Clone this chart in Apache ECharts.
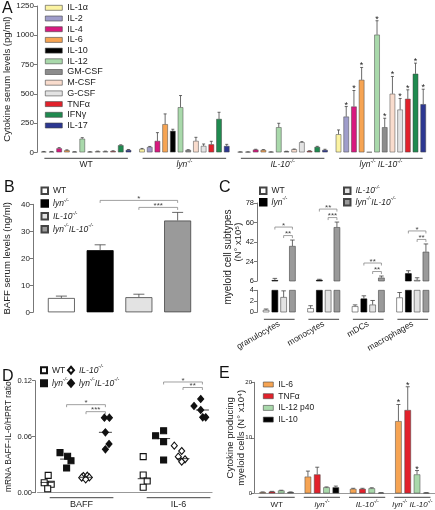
<!DOCTYPE html>
<html><head><meta charset="utf-8">
<script src="https://cdn.jsdelivr.net/npm/echarts@6/dist/echarts.min.js"></script>
<style>html,body{margin:0;padding:0;background:#fff}#c{width:435px;height:510px}</style>
</head><body><div id="c"></div>
<script>
// ---------------- DATA ----------------
const genotypes = ['WT', 'lyn', 'IL10', 'lynIL10'];

// Panel A: cytokine serum levels (pg/ml)
const cytokinesA = ['IL-1α','IL-2','IL-4','IL-6','IL-10','IL-12','GM-CSF','M-CSF','G-CSF','TNFα','IFNγ','IL-17'];
const A_WT          = [5, 5, 34, 17, 4, 116, 4, 8, 8, 10, 60, 20];
const A_WT_err      = [7, 7, 40, 21, 5, 125, 5, 10, 10, 13, 64, 24];
const A_lyn         = [28, 45, 97, 240, 183, 385, 20, 97, 54, 68, 285, 54];
const A_lyn_err     = [33, 50, 168, 328, 197, 485, 22, 128, 71, 94, 342, 68];
const A_IL10        = [3, 3, 23, 20, 3, 214, 8, 26, 86, 11, 46, 20];
const A_IL10_err    = [4, 4, 26, 23, 4, 248, 9, 28, 91, 13, 51, 26];
const A_lynIL10     = [154, 305, 391, 619, 2, 1005, 214, 500, 365, 457, 671, 411];
const A_lynIL10_err = [191, 391, 528, 725, 2, 1124, 291, 648, 460, 534, 762, 539];
const A_lynIL10_sig = ['', '*', '*', '*', '', '*', '*', '*', '*', '*', '*', '*'];

// Panel B: BAFF serum levels (ng/ml)
const B_vals = [5.3, 23, 5.6, 34];
const B_err  = [6.0, 25, 6.7, 37];
const B_sig  = ['*', '***'];           // lyn vs lynIL10, IL10 vs lynIL10

// Panel C: myeloid cell subtypes (N x10^5)
const cellTypes   = ['granulocytes', 'monocytes', 'mDCs', 'macrophages'];
const C_WT        = [0.43, 0.74, 1.1, 2.7];
const C_WT_err    = [0.6, 1.2, 1.35, 3.6];
const C_lyn       = [6.8, 7.0, 2.5, 13.1];
const C_lyn_err   = [8.4, 7.6, 3.0, 15.5];
const C_IL10      = [2.77, 6.2, 1.4, 6.9];
const C_IL10_err  = [3.9, 6.2, 2.15, 9.0];
const C_lynIL10     = [38.3, 55.7, 9.1, 33];
const C_lynIL10_err = [43.8, 60.4, 10.6, 40.2];
const C_sigOuter = ['*', '**', '**', '*'];    // lyn vs lynIL10
const C_sigInner = ['**', '***', '**', '**']; // IL10 vs lynIL10

// Panel D: mRNA BAFF-IL-6/HPRT ratio (individual mice)
const D_markers = ['BAFF', 'IL-6'];
const D_WT_BAFF      = [0.0186, 0.0107, 0.009, 0.0043];
const D_lyn_BAFF     = [0.0429, 0.039, 0.0343, 0.0265];
const D_IL10_BAFF    = [0.0179, 0.0182, 0.0161, 0.0164, 0.0143];
const D_lynIL10_BAFF = [0.0804, 0.0804, 0.0647, 0.0522, 0.0465];
const D_WT_IL6       = [0.0386, 0.019, 0.0125, 0.0058];
const D_lyn_IL6      = [0.0664, 0.061, 0.0547, 0.035];
const D_IL10_IL6     = [0.0504, 0.0447, 0.0386, 0.0358, 0.0332];
const D_lynIL10_IL6  = [0.1004, 0.0929, 0.0886, 0.0808, 0.0808];
const D_median_BAFF  = [0.011, 0.036, 0.0165, 0.0647];
const D_median_IL6   = [0.015, 0.058, 0.0365, 0.0886];
const D_sig_BAFF = ['*', '***'];
const D_sig_IL6  = ['*', '**'];

// Panel E: cytokine producing myeloid cells (N x10^4)
const cytokinesE = ['IL-6', 'TNFα', 'IL-12 p40', 'IL-10'];
const E_IL6      = [0.2, 3.0, 0.8, 13.0];
const E_IL6_err  = [0.25, 4.0, 0.9, 16.0];
const E_TNF      = [0.3, 3.4, 0.8, 15.0];
const E_TNF_err  = [0.35, 4.7, 0.9, 19.2];
const E_IL12     = [0.5, 1.08, 0.9, 3.4];
const E_IL12_err = [0.55, 1.15, 1.0, 4.1];
const E_IL10     = [0.2, 1.08, 0.1, 0.1];
const E_IL10_err = [0.25, 1.3, 0.12, 0.12];
const E_lynIL10_sig = ['*', '*', '*', ''];

// ---------------- STYLE ----------------
const FONT = '"Liberation Sans", Arial, Helvetica, sans-serif';
const TXT = '#222', AXC = '#777';
const colorsA = ['#fbf3a2','#9f9dcb','#d8197f','#f6a453','#000000','#a9d9ab','#8c8c8c','#f9dccd','#e3e3e3','#e2212b','#1f8a4f','#2c3791'];
const genoColor = { WT:'#ffffff', lyn:'#000000', IL10:'#e3e3e3', lynIL10:'#9a9a9a' };
const colorsE = ['#f6a453', '#e2212b', '#a9d9ab', '#000000'];
// within-group horizontal jitter (px) of the dots in D
const D_jit = {
  WT:      { BAFF:[1,-3,4,0.5],       IL6:[-1,-1,3,-1] },
  lyn:     { BAFF:[-6.6,1,4.4,0],     IL6:[0,-8,0,0] },
  IL10:    { BAFF:[-2.7,1.3,-4.3,3.3,-0.3], IL6:[-8.7,-1.3,-4.7,2,-1.3] },
  lynIL10: { BAFF:[-1,4,0,3.6,0],     IL6:[-1.7,-8.4,-1.7,0.3,3.3] }
};

function rich(fs) {
  return {
    n: { fontSize: fs, color: TXT, fontFamily: FONT, lineHeight: fs + 3 },
    i: { fontSize: fs, color: TXT, fontFamily: FONT, fontStyle: 'italic', lineHeight: fs + 3 },
    s: { fontSize: fs * 0.62, color: TXT, fontFamily: FONT, fontStyle: 'italic', verticalAlign: 'top', lineHeight: fs * 0.62 + 1 }
  };
}
const gtSpaced = { WT:'{n|WT}', lyn:'{i|lyn}{s|-/-}', IL10:'{i|IL-10}{s|-/-}', lynIL10:'{i|lyn}{s|-/-}{i| IL-10}{s|-/-}' };
const gtTight  = { WT:'{n|WT}', lyn:'{i|lyn}{s|-/-}', IL10:'{i|IL-10}{s|-/-}', lynIL10:'{i|lyn}{s|-/-}{i|IL-10}{s|-/-}' };
function legendFmt(name) {
  const key = name.slice(2);
  return gtTight[key] ? gtTight[key] : '{n|' + key + '}';
}

// ---------- generic custom renderers ----------
function errorSeries(xi, yi, n, step, cap, items, sigs) {
  return {
    type: 'custom', xAxisIndex: xi, yAxisIndex: yi, silent: true, clip: false, z: 5,
    encode: { x: 0, y: [2, 3] }, data: items,
    renderItem(params, api) {
      const cat = api.value(0), k = api.value(1), v = api.value(2), e = api.value(3);
      const off = (k - (n - 1) / 2) * step;
      const p0 = api.coord([cat, v]), p1 = api.coord([cat, e]);
      const x = p0[0] + off;
      const ch = [];
      if (e > v) {
        ch.push({ type: 'line', shape: { x1: x, y1: p0[1], x2: x, y2: p1[1] }, style: { stroke: '#444', lineWidth: 0.8 } });
        ch.push({ type: 'line', shape: { x1: x - cap / 2, y1: p1[1], x2: x + cap / 2, y2: p1[1] }, style: { stroke: '#444', lineWidth: 0.8 } });
      }
      const s = sigs ? sigs[params.dataIndex] : '';
      if (s) ch.push({ type: 'text', style: { text: s, x: x, y: p1[1] + 3, align: 'center', verticalAlign: 'bottom', fontSize: 9, fill: TXT, fontFamily: FONT } });
      return { type: 'group', children: ch };
    }
  };
}
function bracketSeries(xi, yi, n, step, items, labels) {
  return {
    type: 'custom', xAxisIndex: xi, yAxisIndex: yi, silent: true, clip: false, z: 6,
    encode: { x: 0, y: 4 }, data: items,
    renderItem(params, api) {
      const c1 = api.value(0), k1 = api.value(1), c2 = api.value(2), k2 = api.value(3), ref = api.value(4), gap = api.value(5);
      const pa = api.coord([c1, ref]), pb = api.coord([c2, ref]);
      const xa = pa[0] + (k1 - (n - 1) / 2) * step, xb = pb[0] + (k2 - (n - 1) / 2) * step;
      const y = pa[1] - gap;
      return { type: 'group', children: [
        { type: 'polyline', shape: { points: [[xa, y + 2.5], [xa, y], [xb, y], [xb, y + 2.5]] }, style: { stroke: '#777', lineWidth: 0.7, fill: null } },
        { type: 'text', style: { text: labels[params.dataIndex], x: (xa + xb) / 2, y: y + 2.5, align: 'center', verticalAlign: 'bottom', fontSize: 8, fill: '#444', fontFamily: FONT } }
      ] };
    }
  };
}
function underlineSeries(xi, yi, cats, ratio, yOff) {
  return {
    type: 'custom', xAxisIndex: xi, yAxisIndex: yi, silent: true, clip: false, z: 4,
    encode: { x: 0, y: 1 }, data: cats.map((c, i) => [i, 0]),
    renderItem(params, api) {
      const p = api.coord([api.value(0), 0]);
      const w = api.size([1, 0])[0] * ratio;
      return { type: 'line', shape: { x1: p[0] - w / 2, y1: p[1] + yOff, x2: p[0] + w / 2, y2: p[1] + yOff }, style: { stroke: '#444', lineWidth: 1 } };
    }
  };
}

const series = [];

// ---------------- Panel A ----------------
const A_vals = [A_WT, A_lyn, A_IL10, A_lynIL10];
const A_errs = [A_WT_err, A_lyn_err, A_IL10_err, A_lynIL10_err];
cytokinesA.forEach((c, k) => series.push({
  type: 'bar', name: 'A:' + c, xAxisIndex: 0, yAxisIndex: 0,
  data: A_vals.map(arr => arr[k]), barWidth: 5.5, barGap: '40%',
  itemStyle: { color: colorsA[k], borderColor: '#444', borderWidth: 0.5 }
}));
{
  const items = [], sigs = [];
  A_vals.forEach((arr, g) => arr.forEach((v, k) => { items.push([g, k, v, A_errs[g][k]]); sigs.push(g === 3 ? A_lynIL10_sig[k] : ''); }));
  series.push(errorSeries(0, 0, 12, 5.5 * 1.4, 3, items, sigs));
  series.push(underlineSeries(0, 0, genotypes, 0.85, 6));
}

// ---------------- Panel B ----------------
genotypes.forEach((g, i) => series.push({
  type: 'bar', name: 'B:' + g, xAxisIndex: 1, yAxisIndex: 1,
  data: B_vals.map((v, j) => j === i ? v : '-'), barWidth: 27, barGap: '-100%',
  itemStyle: { color: genoColor[g], borderColor: g === 'lyn' ? '#000' : '#444', borderWidth: 0.8 }
}));
series.push(errorSeries(1, 1, 1, 0, 11, B_vals.map((v, g) => [g, 0, v, B_err[g]]), null));
{
  const ref = Math.max(...B_err.slice(1));
  series.push(bracketSeries(1, 1, 1, 0, [[1, 0, 3, 0, ref, 12], [2, 0, 3, 0, ref, 5]], B_sig));
}

// ---------------- Panel C (broken axis) ----------------
const C_vals = [C_WT, C_lyn, C_IL10, C_lynIL10];
const C_errs = [C_WT_err, C_lyn_err, C_IL10_err, C_lynIL10_err];
genotypes.forEach((g, i) => {
  [[2, 2], [3, 3]].forEach(([xi, yi]) => series.push({
    type: 'bar', name: 'C:' + g, xAxisIndex: xi, yAxisIndex: yi,
    data: C_vals[i].slice(), barWidth: 6.5, barGap: '35%', clip: true,
    itemStyle: { color: genoColor[g], borderColor: g === 'lyn' ? '#000' : '#444', borderWidth: 0.6 }
  }));
});
{
  const up = [], low = [];
  C_vals.forEach((arr, g) => arr.forEach((v, i) => {
    const it = [i, g, v, C_errs[g][i]];
    if (v > 6) up.push(it); else if (C_errs[g][i] <= 4.2) low.push(it);
  }));
  series.push(errorSeries(2, 2, 4, 6.5 * 1.35, 4.5, up, null));
  series.push(errorSeries(3, 3, 4, 6.5 * 1.35, 4.5, low, null));
  const items = [], labels = [];
  cellTypes.forEach((c, i) => {
    const ref = Math.max(C_lyn_err[i], C_IL10_err[i], C_lynIL10_err[i]);
    items.push([i, 1, i, 3, ref, 13]); labels.push(C_sigOuter[i]);
    items.push([i, 2, i, 3, ref, 4.5]); labels.push(C_sigInner[i]);
  });
  series.push(bracketSeries(2, 2, 4, 6.5 * 1.35, items, labels));
  series.push(underlineSeries(3, 3, cellTypes, 0.69, 7));
}

// ---------------- Panel D ----------------
const D_slots = ['BAFF WT', 'BAFF lyn', 'BAFF IL10', 'BAFF lynIL10', '', 'IL-6 WT', 'IL-6 lyn', 'IL-6 IL10', 'IL-6 lynIL10'];
const D_pts = {
  WT: [D_WT_BAFF, D_WT_IL6], lyn: [D_lyn_BAFF, D_lyn_IL6],
  IL10: [D_IL10_BAFF, D_IL10_IL6], lynIL10: [D_lynIL10_BAFF, D_lynIL10_IL6]
};
const D_sym = {
  WT: { symbol: 'rect', size: 6, fill: '#fff' }, lyn: { symbol: 'rect', size: 6, fill: '#111' },
  IL10: { symbol: 'diamond', size: [6, 7], fill: '#fff' }, lynIL10: { symbol: 'diamond', size: [6, 7], fill: '#111' }
};
genotypes.forEach((g, gi) => {
  const data = [];
  D_pts[g][0].forEach((v, i) => data.push({ value: [gi, v], symbolOffset: [D_jit[g].BAFF[i], 0] }));
  D_pts[g][1].forEach((v, i) => data.push({ value: [5 + gi, v], symbolOffset: [D_jit[g].IL6[i], 0] }));
  series.push({
    type: 'scatter', name: 'D:' + g, xAxisIndex: 4, yAxisIndex: 4, data,
    symbol: D_sym[g].symbol, symbolSize: D_sym[g].size,
    itemStyle: { color: D_sym[g].fill, borderColor: '#111', borderWidth: 1.1, opacity: 1 }
  });
});
series.push({
  type: 'scatter', name: 'median', xAxisIndex: 4, yAxisIndex: 4, z: 3,
  data: D_median_BAFF.map((v, g) => [g, v]).concat(D_median_IL6.map((v, g) => [5 + g, v])),
  symbol: 'rect', symbolSize: [13, 1], itemStyle: { color: '#111' }
});
{
  const refB = Math.max(...D_lynIL10_BAFF, ...D_lyn_BAFF, ...D_IL10_BAFF);
  const refI = Math.max(...D_lynIL10_IL6, ...D_lyn_IL6, ...D_IL10_IL6);
  series.push(bracketSeries(4, 4, 1, 0,
    [[1, 0, 3, 0, refB, 13], [2, 0, 3, 0, refB, 6], [6, 0, 8, 0, refI, 17], [7, 0, 8, 0, refI, 11.5]],
    [D_sig_BAFF[0], D_sig_BAFF[1], D_sig_IL6[0], D_sig_IL6[1]]));
  series.push({
    type: 'custom', xAxisIndex: 4, yAxisIndex: 4, silent: true, clip: false,
    encode: { x: 0, y: 2 }, data: D_markers.map((m, i) => [i * 5, i * 5 + 3, 0]),
    renderItem(params, api) {
      const pa = api.coord([api.value(0), 0]), pb = api.coord([api.value(1), 0]);
      const x1 = pa[0] + 2.5, x2 = pb[0] + 8, y = pa[1] + 5;
      return { type: 'group', children: [
        { type: 'line', shape: { x1, y1: y, x2, y2: y }, style: { stroke: '#444', lineWidth: 1 } },
        { type: 'text', style: { text: D_markers[params.dataIndex], x: (x1 + x2) / 2, y: y + 2, align: 'center', verticalAlign: 'top', fontSize: 9, fill: TXT, fontFamily: FONT } }
      ] };
    }
  });
}

// ---------------- Panel E ----------------
const E_vals = [E_IL6, E_TNF, E_IL12, E_IL10];
const E_errs = [E_IL6_err, E_TNF_err, E_IL12_err, E_IL10_err];
cytokinesE.forEach((c, k) => series.push({
  type: 'bar', name: 'E:' + c, xAxisIndex: 5, yAxisIndex: 5,
  data: E_vals[k].slice(), barWidth: 6.5, barGap: '43%',
  itemStyle: { color: colorsE[k], borderColor: '#444', borderWidth: 0.5 }
}));
{
  const items = [], sigs = [];
  E_vals.forEach((arr, k) => arr.forEach((v, g) => { items.push([g, k, v, E_errs[k][g]]); sigs.push(g === 3 ? E_lynIL10_sig[k] : ''); }));
  series.push(errorSeries(5, 5, 4, 6.5 * 1.43, 4, items, sigs));
  series.push(underlineSeries(5, 5, genotypes, 0.8, 4));
}

// ---------------- Axes ----------------
const yBase = {
  type: 'value', splitLine: { show: false }, nameMoveOverlap: false,
  axisLine: { show: true, lineStyle: { color: AXC, width: 1 } },
  axisTick: { show: true, length: 3, lineStyle: { color: AXC } },
  axisLabel: { color: TXT, fontSize: 8, fontFamily: FONT, margin: 3, formatter: v => String(v) },
  nameLocation: 'middle', nameTextStyle: { color: TXT, fontFamily: FONT, fontSize: 9.5 }
};
const xHidden = { type: 'category', axisLine: { show: false }, axisTick: { show: false }, axisLabel: { show: false }, splitLine: { show: false } };
const G = (o) => Object.assign({ outerBoundsMode: 'none', containLabel: false }, o);

const option = {
  animation: false,
  textStyle: { fontFamily: FONT },
  grid: [
    G({ left: 37, top: 6, width: 393, height: 146.3 }),          // A
    G({ left: 42, top: 204.3, width: 155, height: 108 }),        // B
    G({ left: 257, top: 203, width: 178, height: 78 }),          // C upper
    G({ left: 257, top: 290.3, width: 178, height: 22 }),        // C lower
    G({ left: 37.5, top: 380.7, width: 174.6, height: 112 }),    // D
    G({ left: 254, top: 382.3, width: 181, height: 111 })        // E
  ],
  xAxis: [
    Object.assign({}, xHidden, { gridIndex: 0, data: genotypes,
      axisLabel: { show: true, interval: 0, margin: 7, formatter: v => gtSpaced[v], rich: rich(8.5) } }),
    Object.assign({}, xHidden, { gridIndex: 1, data: genotypes }),
    Object.assign({}, xHidden, { gridIndex: 2, data: cellTypes }),
    Object.assign({}, xHidden, { gridIndex: 3, data: cellTypes,
      axisLabel: { show: true, interval: 0, rotate: 30, margin: 11, color: TXT, fontSize: 8.5, fontFamily: FONT } }),
    Object.assign({}, xHidden, { gridIndex: 4, data: D_slots, axisLine: { show: true, lineStyle: { color: '#999', width: 1 } } }),
    Object.assign({}, xHidden, { gridIndex: 5, data: genotypes, axisLine: { show: true, lineStyle: { color: '#999', width: 1 } },
      axisLabel: { show: true, interval: 0, margin: 6, formatter: v => gtSpaced[v], rich: rich(8) } })
  ],
  yAxis: [
    Object.assign({}, yBase, { gridIndex: 0, min: 0, max: 1250, interval: 250, name: 'Cytokine serum levels (pg/ml)', nameGap: 25 }),
    Object.assign({}, yBase, { gridIndex: 1, min: 0, max: 40, interval: 10, offset: 9, name: 'BAFF serum levels (ng/ml)', nameGap: 21 }),
    Object.assign({}, yBase, { gridIndex: 2, min: 6, max: 78, interval: 18, name: '(N° x10⁵)', nameGap: 14,
      axisLabel: { color: TXT, fontSize: 7.5, fontFamily: FONT, margin: 3 } }),
    Object.assign({}, yBase, { gridIndex: 3, min: 0, max: 4, interval: 2,
      axisLabel: { color: TXT, fontSize: 7.5, fontFamily: FONT, margin: 3 } }),
    Object.assign({}, yBase, { gridIndex: 4, min: 0, max: 0.12, interval: 0.06, offset: 2.5, name: 'mRNA BAFF-IL-6/HPRT ratio', nameGap: 22,
      axisLabel: { color: TXT, fontSize: 7.5, fontFamily: FONT, margin: 3, formatter: v => v.toFixed(2) },
      nameTextStyle: { color: TXT, fontFamily: FONT, fontSize: 8.5 } }),
    Object.assign({}, yBase, { gridIndex: 5, min: 0, max: 20, interval: 10, name: 'Cytokine producing\nmyeloid cells (N° x10⁴)', nameGap: 7,
      axisLabel: { color: TXT, fontSize: 6, fontFamily: FONT, margin: 2 },
      nameTextStyle: { color: TXT, fontFamily: FONT, fontSize: 9.5, lineHeight: 11 } })
  ],
  legend: [
    { orient: 'vertical', left: 45, top: 2.8, padding: 0, itemWidth: 17, itemHeight: 5, itemGap: 0.7, icon: 'rect', selectedMode: false,
      itemStyle: { borderWidth: 0.6 },
      data: cytokinesA.map(c => 'A:' + c), formatter: n => n.slice(2),
      textStyle: { fontSize: 9, color: TXT, fontFamily: FONT, lineHeight: 10 } },
    { orient: 'vertical', left: 40.5, top: 185, padding: 0, itemWidth: 6.5, itemHeight: 6.5, itemGap: 1.3, icon: 'rect', selectedMode: false,
      data: genotypes.map(g => 'B:' + g), formatter: legendFmt, textStyle: { rich: rich(8.5), lineHeight: 10 } },
    { orient: 'vertical', left: 259, top: 185, padding: 0, itemWidth: 6.5, itemHeight: 6.5, itemGap: 0, icon: 'rect', selectedMode: false,
      data: ['C:WT', 'C:lyn'], formatter: legendFmt, textStyle: { rich: rich(8.5), lineHeight: 10 } },
    { orient: 'vertical', left: 343, top: 185, padding: 0, itemWidth: 6.5, itemHeight: 6.5, itemGap: 0, icon: 'rect', selectedMode: false,
      data: ['C:IL10', 'C:lynIL10'], formatter: legendFmt, textStyle: { rich: rich(8.5), lineHeight: 10 } },
    { orient: 'vertical', left: 40, top: 364.5, padding: 0, itemWidth: 6, itemHeight: 6, itemGap: 1.5, selectedMode: false,
      data: [{ name: 'D:WT', icon: 'rect' }, { name: 'D:lyn', icon: 'rect' }], formatter: legendFmt, textStyle: { rich: rich(8.5), lineHeight: 10.5 } },
    { orient: 'vertical', left: 67, top: 364.5, padding: 0, itemWidth: 6, itemHeight: 7, itemGap: 1.5, selectedMode: false,
      data: [{ name: 'D:IL10', icon: 'diamond' }, { name: 'D:lynIL10', icon: 'diamond' }], formatter: legendFmt, textStyle: { rich: rich(8.5), lineHeight: 10.5 } },
    { orient: 'vertical', left: 263, top: 379.5, padding: 0, itemWidth: 10, itemHeight: 5, itemGap: 1.7, icon: 'rect', selectedMode: false,
      itemStyle: { borderWidth: 0.6 },
      data: cytokinesE.map(c => 'E:' + c), formatter: n => n.slice(2),
      textStyle: { fontSize: 8.5, color: TXT, fontFamily: FONT, lineHeight: 10 } }
  ],
  graphic: [
    { type: 'text', left: 2, top: 1, style: { text: 'A', fontSize: 16, fill: '#111', fontFamily: FONT } },
    { type: 'text', left: 4, top: 180, style: { text: 'B', fontSize: 16, fill: '#111', fontFamily: FONT } },
    { type: 'text', left: 219, top: 180, style: { text: 'C', fontSize: 16, fill: '#111', fontFamily: FONT } },
    { type: 'text', left: 2, top: 369, style: { text: 'D', fontSize: 16, fill: '#111', fontFamily: FONT } },
    { type: 'text', left: 219, top: 366, style: { text: 'E', fontSize: 16, fill: '#111', fontFamily: FONT } },
    { type: 'text', x: 228, y: 257, rotation: Math.PI / 2,
      style: { text: 'myeloid cell subtypes', align: 'center', verticalAlign: 'middle', fontSize: 10, fill: TXT, fontFamily: FONT } }
  ],
  series
};
const chart = echarts.init(document.getElementById('c'), null, { renderer: 'canvas', width: 435, height: 510 });
chart.setOption(option);
</script></body></html>
